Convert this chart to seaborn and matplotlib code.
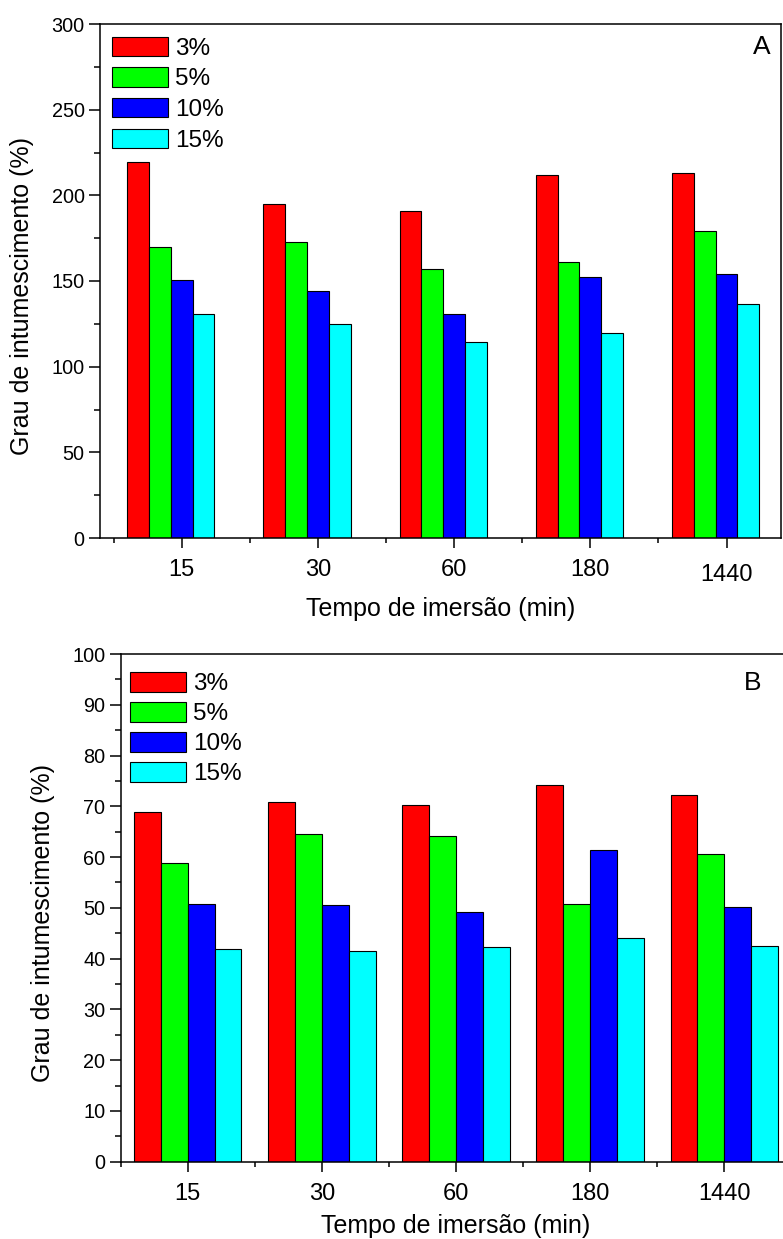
import numpy as np
import pandas as pd
import matplotlib
matplotlib.use("Agg")
import matplotlib.pyplot as plt
from matplotlib.ticker import MultipleLocator, FixedLocator
from matplotlib.transforms import ScaledTranslation
import seaborn as sns

# immersion times (min) and polymer concentrations
tempos = ["15", "30", "60", "180", "1440"]
concentracoes = ["3%", "5%", "10%", "15%"]
cores = ["#FF0000", "#00FF00", "#0000FF", "#00FFFF"]

# swelling degree (%) – panel A
grau_a_3 = [219.7, 195.0, 190.9, 212.1, 213.3]
grau_a_5 = [169.7, 172.6, 157.2, 161.3, 179.4]
grau_a_10 = [150.6, 144.4, 130.6, 152.2, 154.1]
grau_a_15 = [130.6, 124.7, 114.4, 119.5, 136.4]

# swelling degree (%) – panel B
grau_b_3 = [68.8, 70.9, 70.3, 74.1, 72.2]
grau_b_5 = [58.8, 64.6, 64.2, 50.8, 60.6]
grau_b_10 = [50.8, 50.6, 49.2, 61.3, 50.2]
grau_b_15 = [41.9, 41.5, 42.2, 44.0, 42.4]


def long_table(series):
    rows = []
    for conc, vals in zip(concentracoes, series):
        for t, v in zip(tempos, vals):
            rows.append({"tempo": t, "conc": conc, "grau": v})
    return pd.DataFrame(rows)


df_a = long_table([grau_a_3, grau_a_5, grau_a_10, grau_a_15])
df_b = long_table([grau_b_3, grau_b_5, grau_b_10, grau_b_15])

sns.set_style("ticks")
plt.rcParams["font.family"] = ["Liberation Sans", "DejaVu Sans"]
plt.rcParams.update({
    "axes.linewidth": 1.1,
    "axes.edgecolor": "black",
    "axes.labelcolor": "black",
    "text.color": "black",
    "xtick.color": "black",
    "ytick.color": "black",
})

W, H = 783, 1239
fig = plt.figure(figsize=(W / 100, H / 100), dpi=100)

ax_a = fig.add_axes([100 / W, 1 - 538 / H, 681 / W, 514 / H])
ax_b = fig.add_axes([120.7 / W, 1 - 1161.7 / H, 670.6 / W, 507.7 / H])


def draw_panel(ax, df, width):
    sns.barplot(data=df, x="tempo", y="grau", hue="conc", order=tempos,
                hue_order=concentracoes, palette=cores, saturation=1,
                width=width, edgecolor="black", linewidth=0.8, ax=ax,
                errorbar=None)
    for side in ["top", "right"]:
        ax.spines[side].set_visible(True)
    ax.tick_params(axis="y", which="major", length=8, width=1.1,
                   labelsize=14.3, direction="out", pad=3)
    ax.tick_params(axis="y", which="minor", length=4.3, width=1.1,
                   direction="out")
    ax.tick_params(axis="x", which="major", length=7, width=1.1,
                   labelsize=17, direction="out", pad=8)
    ax.tick_params(axis="x", which="minor", length=3.6, width=1.1,
                   direction="out")
    ax.grid(False)
    return list(ax.containers)


legend_kw = dict(loc="upper left", frameon=False, fontsize=17.5, borderpad=0,
                 borderaxespad=0, handlelength=2.3, handleheight=0.86,
                 handletextpad=0.3)

# panel A
h = draw_panel(ax_a, df_a, 0.64)
ticks_a = np.arange(len(tempos)) + 0.08
ax_a.xaxis.set_major_locator(FixedLocator(ticks_a))
ax_a.set_xticklabels(tempos)
ax_a.xaxis.set_minor_locator(FixedLocator(np.arange(-0.5, 5.0, 1.0) + 0.08))
ax_a.set_xlim(-0.6 + 0.08, 4.4 + 0.08)
ax_a.set_ylim(0, 300)
ax_a.yaxis.set_major_locator(MultipleLocator(50))
ax_a.yaxis.set_minor_locator(MultipleLocator(25))
ax_a.set_xlabel("Tempo de imersão (min)", fontsize=18)
ax_a.set_ylabel("Grau de intumescimento (%)", fontsize=18)
ax_a.xaxis.set_label_coords(0.5, -0.115)
ax_a.yaxis.set_label_coords(-0.097, 0.47)
lbl = ax_a.get_xticklabels()[-1]
lbl.set_transform(lbl.get_transform() + ScaledTranslation(0, -5.5 / 100, fig.dpi_scale_trans))
ax_a.legend(h, concentracoes, bbox_to_anchor=(11.7 / 681, 1 - 12.5 / 514),
            labelspacing=0.31, **legend_kw)
ax_a.text(0.985, 0.955, "A", transform=ax_a.transAxes, ha="right", va="center",
          fontsize=19)

# panel B
h = draw_panel(ax_b, df_b, 0.8)
ax_b.xaxis.set_major_locator(FixedLocator(np.arange(len(tempos))))
ax_b.set_xticklabels(tempos)
ax_b.xaxis.set_minor_locator(FixedLocator(np.arange(-0.5, 5.0, 1.0)))
ax_b.set_xlim(-0.5, 4.5)
ax_b.set_ylim(0, 100)
ax_b.yaxis.set_major_locator(MultipleLocator(10))
ax_b.yaxis.set_minor_locator(MultipleLocator(5))
ax_b.set_xlabel("Tempo de imersão (min)", fontsize=18)
ax_b.set_ylabel("Grau de intumescimento (%)", fontsize=18)
ax_b.xaxis.set_label_coords(0.5, -0.103)
ax_b.yaxis.set_label_coords(-0.098, 0.47)
ax_b.legend(h, concentracoes, bbox_to_anchor=(9.3 / 670.6, 1 - 18 / 507.7),
            labelspacing=0.28, **legend_kw)
ax_b.text(0.955, 0.943, "B", transform=ax_b.transAxes, ha="right", va="center",
          fontsize=19)

fig.savefig("out.png", dpi=100)
